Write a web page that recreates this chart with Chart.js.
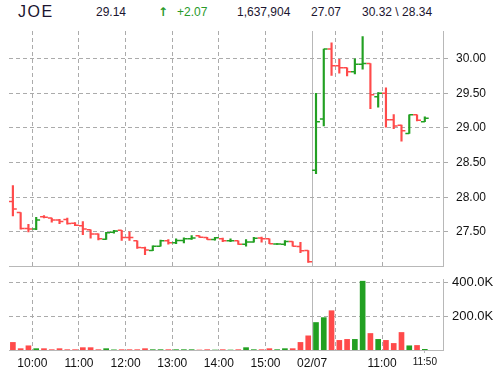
<!DOCTYPE html>
<html><head><meta charset="utf-8">
<script src="https://cdn.jsdelivr.net/npm/chart.js@4"></script>
<style>
html,body{margin:0;padding:0;background:#fff;}
#wrap{position:relative;width:499px;height:374px;overflow:hidden;font-family:"Liberation Sans",Arial,sans-serif;}
.h{position:absolute;top:4px;font-size:12px;line-height:16px;color:#1b1530;white-space:pre;}
.g{color:#2a9a2a;}
canvas{position:absolute;left:0;}
</style></head><body>
<div id="wrap">
<div class="h" style="left:18px;top:1px;font-size:16px;line-height:22px;letter-spacing:1.5px;">JOE</div>
<div class="h" style="left:96px;">29.14</div>
<div class="h g" style="left:158px;top:4px;font-family:'DejaVu Sans';font-size:12px;font-weight:bold;">↑</div>
<div class="h g" style="left:177px;">+2.07</div>
<div class="h" style="left:237px;">1,637,904</div>
<div class="h" style="left:311px;">27.07</div>
<div class="h" style="left:362px;">30.32 \ 28.34</div>
<canvas id="pc" width="499" height="272" style="top:0"></canvas>
<canvas id="vc" width="499" height="102" style="top:272px"></canvas>
</div>
<script>
// ---- data ----
const times = ['09:30','09:40','09:50','10:00','10:10','10:20','10:30','10:40','10:50',
 '11:00','11:10','11:20','11:30','11:40','11:50','12:00','12:10','12:20','12:30','12:40','12:50',
 '13:00','13:10','13:20','13:30','13:40','13:50','14:00','14:10','14:20','14:30','14:40','14:50',
 '15:00','15:10','15:20','15:30','15:40','15:50',
 '02/07 09:30','02/07 09:40','02/07 09:50','02/07 10:00','02/07 10:10','02/07 10:20','02/07 10:30',
 '02/07 10:40','02/07 10:50','02/07 11:00','02/07 11:10','02/07 11:20','02/07 11:30','02/07 11:40','02/07 11:50'];

const openP = [27.94,27.78,27.55,27.54,27.72,27.70,27.67,27.68,27.625,27.59,27.53,27.47,27.395,27.495,27.524,27.42,
 27.37,27.27,27.23,27.294,27.37,27.342,27.376,27.40,27.443,27.42,27.39,27.40,27.37,27.37,27.323,27.352,27.41,27.40,
 27.325,27.323,27.36,27.29,27.23,
 28.39,29.13,30.14,29.90,29.87,29.81,29.92,29.93,29.45,29.50,29.12,29.04,28.92,29.19,29.09];
const highP = [28.17,27.78,27.61,27.71,27.735,27.70,27.68,27.70,27.634,27.65,27.53,27.47,27.495,27.524,27.524,27.50,
 27.37,27.28,27.30,27.38,27.39,27.40,27.414,27.447,27.443,27.42,27.42,27.41,27.40,27.37,27.39,27.42,27.423,27.40,
 27.33,27.376,27.36,27.35,27.23,
 29.50,30.14,30.23,29.99,29.87,30.00,30.32,29.93,29.51,29.58,29.195,29.04,29.19,29.19,29.16];
const lowP = [27.73,27.54,27.50,27.53,27.70,27.64,27.62,27.61,27.59,27.46,27.41,27.385,27.39,27.48,27.376,27.376,
 27.26,27.17,27.227,27.294,27.323,27.328,27.342,27.39,27.42,27.39,27.38,27.36,27.36,27.318,27.294,27.35,27.35,27.33,
 27.32,27.304,27.294,27.20,27.06,
 28.34,29.03,29.76,29.79,29.75,29.78,29.85,29.28,29.30,29.01,28.99,28.81,28.92,29.10,29.09];
const closeP = [27.83,27.55,27.54,27.67,27.71,27.67,27.65,27.62,27.596,27.54,27.47,27.40,27.486,27.514,27.42,27.419,
 27.275,27.24,27.294,27.371,27.342,27.376,27.40,27.41,27.423,27.39,27.414,27.37,27.372,27.323,27.352,27.409,27.40,27.33,
 27.325,27.361,27.294,27.227,27.07,
 29.09,30.14,29.90,29.87,29.81,29.92,29.93,29.48,29.50,29.12,29.03,28.96,29.19,29.11,29.14];
const volume = [45000,8000,25000,8000,8000,2000,8000,2000,2000,14000,14000,2000,8000,1000,2000,2000,2000,8000,2000,2000,
 2000,2000,2000,2000,0,2000,0,2000,0,2000,14000,2000,2000,8000,2000,8000,8000,45000,84000,
 163000,192000,233000,57000,63000,63000,408000,98000,63000,57000,39000,104000,25000,27000,4000];

const priceTicks = [27.5,28.0,28.5,29.0,29.5,30.0];
const volumeTicks = [200000,400000];
const xTickTimes = ['10:00','11:00','12:00','13:00','14:00','15:00','02/07 09:30','02/07 10:00','02/07 11:00','02/07 11:50'];
const xTickLabels = ['10:00','11:00','12:00','13:00','14:00','15:00','02/07','','11:00','11:50'];

// ---- styling ----
const FF = '"Liberation Sans", Arial, sans-serif';
const RED = '#ff4a4a', GREEN = '#22a022';
const GRID = '#ababab', BORDER = '#b8b8b8';
const X_MAX = 55.84;
const cols = closeP.map((c,i)=> c >= openP[i] ? GREEN : RED);
const xTickPos = xTickTimes.map((t,i)=> times.indexOf(t) + (i === xTickTimes.length-1 ? 0.5 : 0));
const DIV = 6, LAST = 9;

function noPad(s){ s.paddingTop=0; s.paddingBottom=0; s.paddingLeft=0; s.paddingRight=0; }
const common = {responsive:false, animation:false, events:[],
  plugins:{legend:{display:false}, tooltip:{enabled:false}}};

new Chart(document.getElementById('pc'), {
  data:{datasets:[
    {type:'bar', data: times.map((t,i)=>({x:i+0.5, y:[lowP[i], highP[i]]})),
     backgroundColor: cols, borderWidth:0, barThickness:1.5, grouped:false},
    {type:'scatter', data: times.map((t,i)=>({x:i+0.25, y:openP[i]})),
     pointStyle:'line', pointRadius:1.95, pointBorderWidth:1.5, pointBorderColor:cols, pointBackgroundColor:cols, borderColor:cols},
    {type:'scatter', data: times.map((t,i)=>({x:i+0.75, y:closeP[i]})),
     pointStyle:'line', pointRadius:1.95, pointBorderWidth:1.5, pointBorderColor:cols, pointBackgroundColor:cols, borderColor:cols}
  ]},
  options:Object.assign({}, common, {
    layout:{padding:{left:9, top:31, right:0, bottom:4}},
    scales:{
      x:{type:'linear', min:0, max:X_MAX, offset:false,
         afterBuildTicks: s=>{ s.ticks = xTickPos.slice(0,LAST).map(v=>({value:v})); },
         afterFit: s=>{ s.height=0; noPad(s); },
         ticks:{display:false},
         grid:{offset:false, drawTicks:false, lineWidth:1, color: c=> c.index===DIV ? BORDER : GRID},
         border:{display:true, color:BORDER, dash: c=> (c.tick && c.index===DIV) ? [] : [4,3]}},
      y:{type:'linear', position:'right', min:27.0, max:30.4,
         afterBuildTicks: s=>{ s.ticks = priceTicks.map(v=>({value:v})); },
         afterFit: s=>{ s.width=56; noPad(s); },
         ticks:{callback: v=> Number(v).toFixed(2), color:'#111', padding:8, font:{family:FF, size:12}},
         grid:{color:GRID, tickLength:5, tickColor:GRID, tickBorderDash:[4,3]},
         border:{display:true, color:BORDER, dash:[4,3]}}
    }
  })
});

new Chart(document.getElementById('vc'), {
  data:{datasets:[
    {type:'bar', data: times.map((t,i)=>({x:i+0.5, y:volume[i]})),
     backgroundColor: cols, borderWidth:0, barThickness:5}
  ]},
  options:Object.assign({}, common, {
    layout:{padding:{left:9, top:7, right:0, bottom:0}},
    scales:{
      x:{type:'linear', min:0, max:X_MAX, offset:false,
         afterBuildTicks: s=>{ s.ticks = xTickPos.map(v=>({value:v})); },
         afterFit: s=>{ s.height=24; noPad(s); },
         ticks:{autoSkip:false, maxRotation:0, minRotation:0, padding:3, color:'#111',
                callback:(v,i)=> xTickLabels[i],
                font: c=> ({family:FF, size: c.index===LAST ? 10 : 12})},
         grid:{offset:false, drawTicks:true, tickLength:3, lineWidth:1,
               color: c=> c.index===LAST ? 'rgba(0,0,0,0)' : (c.index===DIV ? BORDER : GRID),
               tickColor: c=> c.index===LAST ? BORDER : 'rgba(0,0,0,0)'},
         border:{display:true, color:BORDER, dash: c=> (c.tick && c.index===DIV) ? [] : [4,3]}},
      y:{type:'linear', position:'right', min:0, max:421000,
         afterBuildTicks: s=>{ s.ticks = volumeTicks.map(v=>({value:v})); },
         afterFit: s=>{ s.width=56; noPad(s); },
         ticks:{callback: v=> (v/1000).toFixed(1)+'K', color:'#111', padding:4, font:{family:FF, size:13}},
         grid:{color:GRID, tickLength:5, tickColor:GRID, tickBorderDash:[4,3]},
         border:{display:true, color:BORDER, dash:[4,3]}}
    }
  })
});
</script>
</body></html>
